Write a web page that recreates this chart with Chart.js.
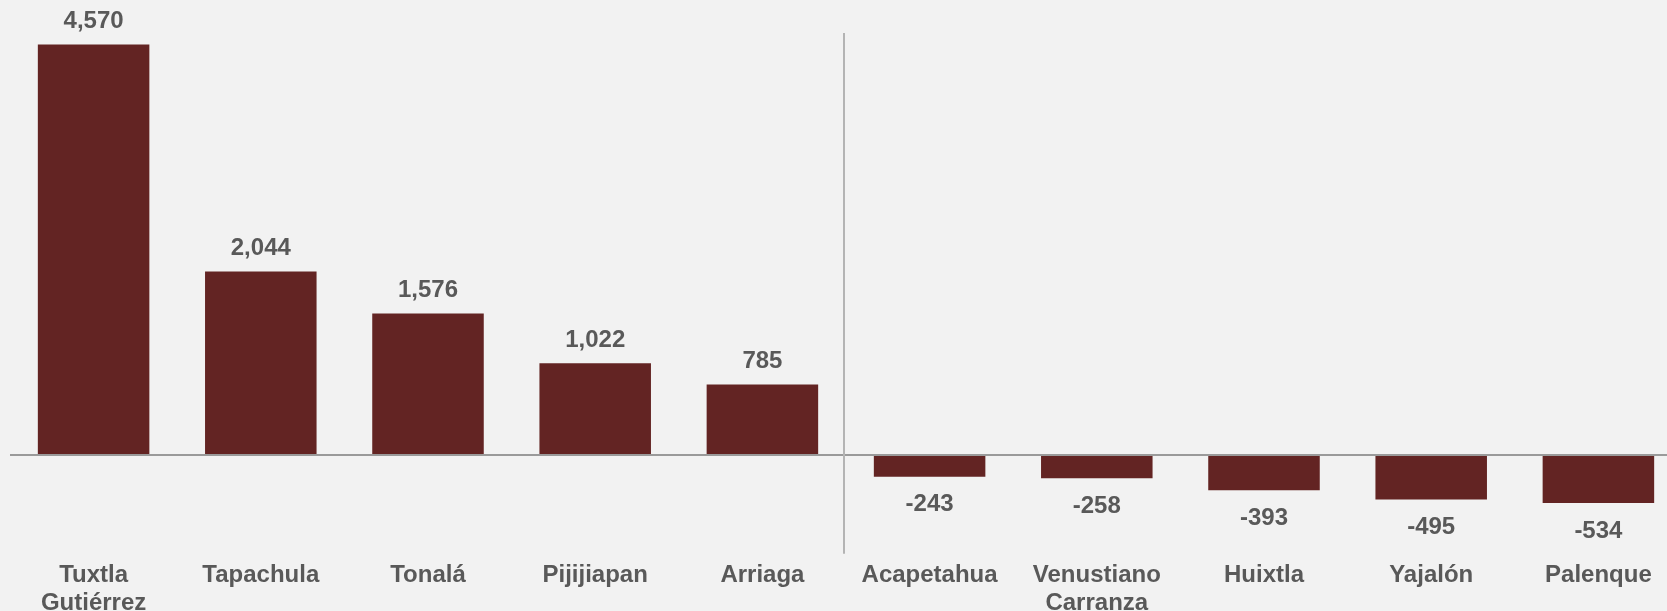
<!DOCTYPE html>
<html>
<head>
<meta charset="utf-8">
<script src="https://cdn.jsdelivr.net/npm/chart.js@4/dist/chart.umd.min.js"></script>
<style>
  html, body { margin: 0; padding: 0; background: #f2f2f2; overflow: hidden; width: 1667px; height: 611px; }
  #wrap { position: relative; width: 1692px; height: 625px; }
</style>
</head>
<body>
<div id="wrap"><canvas id="c"></canvas></div>
<script>
const categories = [
  ["Tuxtla", "Gutiérrez"], "Tapachula", "Tonalá", "Pijijiapan", "Arriaga",
  "Acapetahua", ["Venustiano", "Carranza"], "Huixtla", "Yajalón", "Palenque"
];
const values = [4570, 2044, 1576, 1022, 785, -243, -258, -393, -495, -534];
const valueLabels = ["4,570", "2,044", "1,576", "1,022", "785", "-243", "-258", "-393", "-495", "-534"];

const FONT = "'Liberation Sans', Arial, sans-serif";
const TEXT = '#595959';

const linesPlugin = {
  id: 'lines',
  afterDatasetsDraw(chart) {
    const { ctx, chartArea } = chart;
    const x = chart.scales.x, y = chart.scales.y;
    ctx.save();
    // zero line
    const y0 = y.getPixelForValue(0);
    ctx.strokeStyle = '#9a9a9a';
    ctx.lineWidth = 2;
    ctx.beginPath();
    ctx.moveTo(chartArea.left, y0);
    ctx.lineTo(chartArea.right, y0);
    ctx.stroke();
    // separator between index 4 and 5
    const xs = (x.getPixelForValue(4) + x.getPixelForValue(5)) / 2 - 2;
    ctx.strokeStyle = '#b4b4b4';
    ctx.lineWidth = 2;
    ctx.beginPath();
    ctx.moveTo(xs, y.getPixelForValue(4700));
    ctx.lineTo(xs, chartArea.bottom);
    ctx.stroke();
    // value labels
    const meta = chart.getDatasetMeta(0);
    ctx.fillStyle = TEXT;
    ctx.font = 'bold 24px ' + FONT;
    ctx.textAlign = 'center';
    ctx.textBaseline = 'middle';
    meta.data.forEach((bar, i) => {
      const v = values[i];
      const ty = v >= 0 ? bar.y - 23 : bar.y + 28;
      ctx.fillText(valueLabels[i], bar.x, ty);
    });
    ctx.restore();
  }
};

new Chart(document.getElementById('c'), {
  type: 'bar',
  data: {
    labels: categories,
    datasets: [{
      data: values,
      backgroundColor: '#632423',
      borderWidth: 0,
      categoryPercentage: 1.0,
      barPercentage: 0.667
    }]
  },
  options: {
    responsive: true,
    maintainAspectRatio: false,
    animation: false,
    layout: { padding: { left: 10, right: 10, top: 6, bottom: 0 } },
    plugins: { legend: { display: false }, tooltip: { enabled: false } },
    scales: {
      x: {
        grid: { display: false, drawTicks: false },
        border: { display: false },
        ticks: {
          color: TEXT,
          font: { family: FONT, size: 24, weight: 'bold', lineHeight: 1.15 },
          padding: 8,
          maxRotation: 0,
          autoSkip: false
        }
      },
      y: {
        display: false,
        min: -1100,
        max: 5000
      }
    }
  },
  plugins: [linesPlugin]
});
</script>
</body>
</html>
